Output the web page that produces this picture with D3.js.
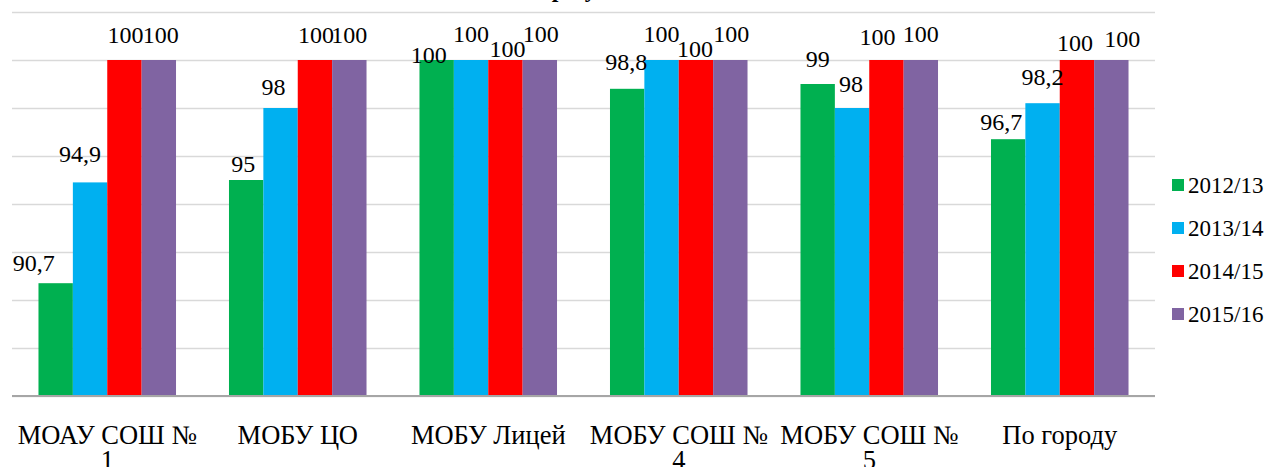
<!DOCTYPE html>
<html><head><meta charset="utf-8">
<script src="https://cdn.jsdelivr.net/npm/d3@7/dist/d3.min.js"></script>
<style>
html,body{margin:0;padding:0;background:#fff;}
svg{display:block;}
svg text{font-family:"Liberation Serif","Times New Roman","DejaVu Serif",serif;}
</style></head>
<body>
<svg id="chart" width="1272" height="467"></svg>
<script>
// ---- data ----
const categories = ["МОАУ СОШ № 1", "МОБУ ЦО", "МОБУ Лицей", "МОБУ СОШ № 4", "МОБУ СОШ № 5", "По городу"];
const seriesNames = ["2012/13", "2013/14", "2014/15", "2015/16"];
const values2012 = [90.7, 95, 100, 98.8, 99, 96.7];
const values2013 = [94.9, 98, 100, 100, 98, 98.2];
const values2014 = [100, 100, 100, 100, 100, 100];
const values2015 = [100, 100, 100, 100, 100, 100];
const yTicks = [86, 88, 90, 92, 94, 96, 98, 100, 102];
const titleText = "Успеваемость по результатам экзаменов";

// ---- styles / layout ----
const FONT = "'Liberation Serif', 'Times New Roman', 'DejaVu Serif', serif";
const colors = ["#00B050", "#00B0F0", "#FF0000", "#8064A2"];
const labelNudge = [
  [[-22, 6], [-3, 10], [-8, 21], [-1, -1], [0, 1], [-7, 9]],
  [[-10, -2], [-7, 5], [0, 0], [0, 0], [-1, 2], [0, 0]],
  [[1, 1], [1, 1], [2, 15], [-1, 15], [-9, 3], [-2, 9]],
  [[2, 1], [0, 1], [1, 0], [1, 0], [0, 0], [11, 5]]
];
const allValues = [values2012, values2013, values2014, values2015];
const fmt = v => String(v).replace(".", ",");

const svg = d3.select("#chart");
const plotLeft = 12, plotRight = 1155, plotTop = 12, plotBottom = 396;

const x0 = d3.scaleBand().domain(categories).range([plotLeft, plotRight])
  .paddingInner(0.278).paddingOuter(0.139);
const x1 = d3.scaleBand().domain(seriesNames).range([0, x0.bandwidth()]).padding(0);
const y = d3.scaleLinear().domain([86, 102]).range([plotBottom, plotTop]);

// gridlines
const grid = svg.append("g").attr("transform", `translate(${plotLeft},0)`)
  .call(d3.axisLeft(y).tickValues(yTicks).tickSize(-(plotRight - plotLeft)).tickFormat(""));
grid.select(".domain").remove();
grid.selectAll(".tick line").attr("stroke", "#D9D9D9").attr("stroke-width", 1.5);

// title (mostly clipped at top, as in the reference)
svg.append("text").attr("x", (plotLeft + plotRight) / 2).attr("y", -3)
  .attr("text-anchor", "middle").attr("font-size", 24).attr("font-weight", "bold")
  .attr("font-family", FONT).attr("fill", "#000").text(titleText);

// bars
const groups = svg.append("g").selectAll("g").data(categories).join("g")
  .attr("transform", d => `translate(${x0(d)},0)`);
groups.selectAll("rect").data((c, ci) => seriesNames.map((s, si) => ({s, si, ci, v: allValues[si][ci]})))
  .join("rect")
  .attr("x", d => x1(d.s)).attr("width", x1.bandwidth())
  .attr("y", d => y(d.v)).attr("height", d => y(86) - y(d.v))
  .attr("fill", d => colors[d.si]);

// baseline axis
const xAxis = svg.append("g").attr("transform", `translate(0,${plotBottom})`)
  .call(d3.axisBottom(x0).tickSize(0).tickPadding(0));
xAxis.attr("font-family", FONT);
xAxis.select(".domain").attr("stroke", "#A6A6A6").attr("stroke-width", 2)
  .attr("d", `M${plotLeft},0H${plotRight}`);
xAxis.selectAll(".tick text").remove();
xAxis.selectAll(".tick").each(function(d) {
  const t = d3.select(this).append("text").attr("text-anchor", "middle")
    .attr("font-size", 26.5).attr("fill", "#000").attr("font-family", FONT);
  const words = d.split(" ");
  let line = [], lines = [];
  const maxW = x0.step() - 4;
  const tmp = t.append("tspan");
  words.forEach(w => {
    const trial = line.concat([w]).join(" ");
    tmp.text(trial);
    if (tmp.node().getComputedTextLength() > maxW && line.length) {
      lines.push(line.join(" ")); line = [w];
    } else line.push(w);
  });
  lines.push(line.join(" "));
  tmp.remove();
  lines.forEach((l, i) => t.append("tspan").attr("x", 0).attr("y", 48 + i * 25).text(l));
});

// data labels
groups.selectAll("text.lbl").data((c, ci) => seriesNames.map((s, si) => ({s, si, ci, v: allValues[si][ci]})))
  .join("text").attr("class", "lbl")
  .attr("x", d => x1(d.s) + x1.bandwidth() / 2 + labelNudge[d.si][d.ci][0])
  .attr("y", d => y(d.v) - 18 + labelNudge[d.si][d.ci][1])
  .attr("text-anchor", "middle").attr("font-size", 24).attr("font-family", FONT).attr("fill", "#000")
  .text(d => fmt(d.v));

// legend
const legend = svg.append("g").attr("transform", "translate(1172,0)");
seriesNames.forEach((s, i) => {
  const cy = 185 + i * 43;
  legend.append("rect").attr("x", 0).attr("y", cy - 6).attr("width", 12).attr("height", 12).attr("fill", colors[i]);
  legend.append("text").attr("x", 16).attr("y", cy + 8).attr("font-size", 23).attr("font-family", FONT)
    .attr("fill", "#000").text(s);
});
</script>
</body></html>
